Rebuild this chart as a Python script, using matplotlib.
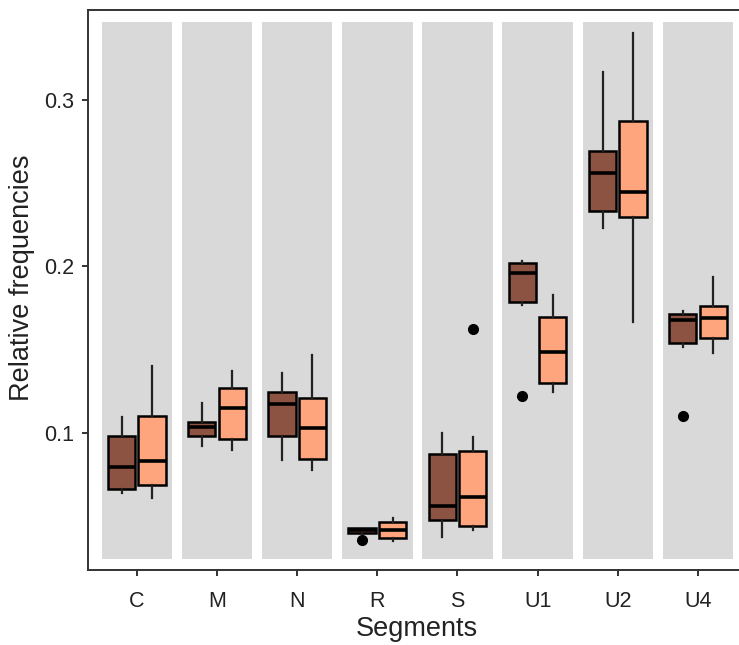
import numpy as np
import matplotlib
matplotlib.use('Agg')
import matplotlib.pyplot as plt

plt.rcParams['font.family'] = ['Liberation Sans', 'DejaVu Sans']

# segments on the x axis
segments = ['C', 'M', 'N', 'R', 'S', 'U1', 'U2', 'U4']

# box statistics, one list per statistic
# dark group
dark_lo  = [0.0638, 0.0924, 0.0838, 0.0392, 0.0377, 0.1769, 0.2233, 0.1515]
dark_q1  = [0.0662, 0.0984, 0.0984, 0.0398, 0.0477, 0.1787, 0.2335, 0.1542]
dark_med = [0.0798, 0.1038, 0.1172, 0.0415, 0.0562, 0.1963, 0.2563, 0.1680]
dark_q3  = [0.0984, 0.1064, 0.1244, 0.0428, 0.0874, 0.2019, 0.2696, 0.1712]
dark_hi  = [0.1094, 0.1178, 0.1359, 0.0432, 0.0998, 0.2035, 0.3170, 0.1730]
dark_out = [[], [], [], [0.0355], [], [0.1224], [], [0.1104]]

# light group
light_lo  = [0.0608, 0.0898, 0.0778, 0.0349, 0.0417, 0.1248, 0.1668, 0.1482]
light_q1  = [0.0688, 0.0962, 0.0842, 0.0369, 0.0443, 0.1298, 0.2299, 0.1569]
light_med = [0.0834, 0.1148, 0.1028, 0.0417, 0.0614, 0.1485, 0.2449, 0.1689]
light_q3  = [0.1104, 0.1272, 0.1212, 0.0464, 0.0894, 0.1695, 0.2876, 0.1763]
light_hi  = [0.1404, 0.1372, 0.1468, 0.0488, 0.0974, 0.1829, 0.3400, 0.1939]
light_out = [[], [], [], [], [0.1623], [], [], []]

# grey background band behind each segment
band_bottom = 0.0243
band_top = 0.3466

dark_col = '#8c5342'
light_col = '#ffa57e'


def make_stats(lo, q1, med, q3, hi, out):
    stats = []
    for i in range(len(lo)):
        stats.append({'whislo': lo[i], 'q1': q1[i], 'med': med[i],
                      'q3': q3[i], 'whishi': hi[i], 'fliers': out[i]})
    return stats


def draw_group(ax, stats, pos, colour):
    ax.bxp(stats, positions=pos, widths=0.34, patch_artist=True,
           showcaps=False, manage_ticks=False,
           boxprops=dict(facecolor=colour, edgecolor='black', linewidth=1.8),
           medianprops=dict(color='black', linewidth=2.6),
           whiskerprops=dict(color='#222222', linewidth=1.6),
           flierprops=dict(marker='o', markerfacecolor='black',
                           markeredgecolor='black', markersize=7))


def main():
    fig = plt.figure(figsize=(7.39, 6.45), dpi=100)
    ax = fig.add_axes([0.119, 0.1163, 0.8905, 0.8682])

    x = np.arange(1, len(segments) + 1)
    ax.bar(x, band_top - band_bottom, bottom=band_bottom, width=0.88,
           color='#d9d9d9', zorder=0)

    draw_group(ax, make_stats(dark_lo, dark_q1, dark_med, dark_q3, dark_hi, dark_out),
               x - 0.19, dark_col)
    draw_group(ax, make_stats(light_lo, light_q1, light_med, light_q3, light_hi, light_out),
               x + 0.19, light_col)

    ax.set_xlim(0.39, 8.6)
    ax.set_ylim(0.0177, 0.354)
    ax.set_xticks(x)
    ax.set_xticklabels(segments)
    ax.set_yticks([0.1, 0.2, 0.3])
    ax.set_yticklabels(['0.1', '0.2', '0.3'])
    ax.tick_params(labelsize=15.5, length=4, width=1.3, colors='#222222')
    ax.tick_params(axis='x', pad=11)
    ax.tick_params(axis='y', pad=6)
    for s in ax.spines.values():
        s.set_linewidth(1.4)
        s.set_color('#333333')

    # axis titles placed where the reference has them
    fig.text(417 / 739, 1 - 629 / 645, 'Segments', fontsize=19.5,
             ha='center', va='center', color='#222222')
    fig.text(22 / 739, 1 - 278 / 645, 'Relative frequencies', fontsize=19.5,
             rotation=90, ha='center', va='center', color='#222222')

    fig.savefig('out.png', dpi=100)


if __name__ == '__main__':
    main()
